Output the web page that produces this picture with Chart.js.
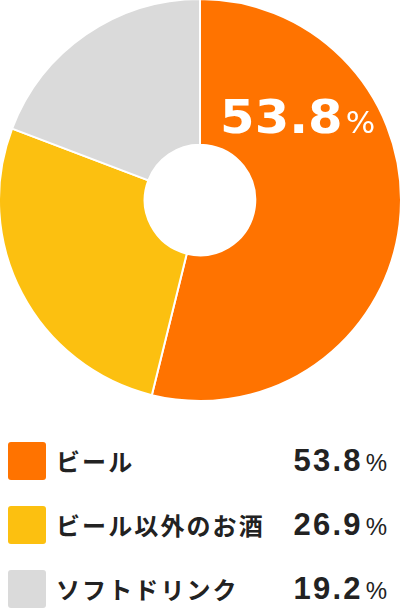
<!DOCTYPE html>
<html lang="ja">
<head>
<meta charset="utf-8">
<script src="https://cdn.jsdelivr.net/npm/chart.js@4.4.1/dist/chart.umd.min.js"></script>
<style>
  body { margin: 0; background: #fff; width: 400px; height: 608px; overflow: hidden; position: relative; }
  #chartBox { position: absolute; left: -2px; top: -2px; width: 404px; height: 404px; }
  .row { position: absolute; left: 0; width: 400px; height: 38px; }
  .swatch { position: absolute; left: 8px; top: 0; width: 38px; height: 38px; border-radius: 3px; }
  .label { position: absolute; left: 56px; top: 0; line-height: 38px; font-family: "Noto Sans CJK JP"; font-weight: 700; font-size: 24px; letter-spacing: 2.1px; color: #222; white-space: nowrap; }
  .value { position: absolute; right: 13px; top: 0; line-height: 38px; color: #222; font-family: "Liberation Sans"; white-space: nowrap; }
  .num { font-weight: 700; font-size: 31px; letter-spacing: 2.2px; }
  .pct { font-size: 24px; margin-left: 3px; }
</style>
</head>
<body>
<div id="chartBox"><canvas id="pieChart"></canvas></div>
<div id="legend"></div>
<script>
var labels = ['ビール', 'ビール以外のお酒', 'ソフトドリンク'];
var values = [53.8, 26.9, 19.2];
var colors = ['#FF7300', '#FCC010', '#DADADA'];

// big white percentage on the first slice
var bigLabel = {
    id: 'bigLabel',
    afterDatasetsDraw: function(chart) {
        var arc = chart.getDatasetMeta(0).data[0];
        var r = arc.outerRadius;
        var ctx = chart.ctx;
        var num = values[0].toFixed(1);
        ctx.save();
        ctx.fillStyle = '#fff';
        ctx.textBaseline = 'alphabetic';
        ctx.translate(arc.x + r * 0.1, arc.y - r * 0.335);
        ctx.save();
        ctx.scale(1.08, 1);
        ctx.font = 'bold 46px "DejaVu Sans"';
        ctx.fillText(num, 0, 0);
        var w = ctx.measureText(num).width * 1.08;
        ctx.restore();
        ctx.translate(w + 3, 0);
        ctx.font = '31px "DejaVu Sans"';
        ctx.fillText('%', 0, 0);
        ctx.restore();
    }
};

var ctx = document.getElementById('pieChart').getContext('2d');
var pieChart = new Chart(ctx, {
    type: 'doughnut',
    data: {
        labels: labels,
        datasets: [{
            data: values,
            backgroundColor: colors,
            borderColor: '#fff',
            borderWidth: 2
        }]
    },
    options: {
        responsive: true,
        maintainAspectRatio: false,
        animation: false,
        cutout: '27.5%',
        events: [],
        layout: { padding: 0 },
        plugins: {
            legend: { display: false },
            tooltip: { enabled: false }
        }
    },
    plugins: [bigLabel]
});

// legend rows under the chart
var legend = document.getElementById('legend');
for (var i = 0; i < labels.length; i++) {
    var row = document.createElement('div');
    row.className = 'row';
    row.style.top = (442 + i * 64) + 'px';
    row.innerHTML = '<div class="swatch" style="background:' + colors[i] + '"></div>' +
        '<div class="label">' + labels[i] + '</div>' +
        '<div class="value"><span class="num">' + values[i].toFixed(1) + '</span><span class="pct">%</span></div>';
    legend.appendChild(row);
}
</script>
</body>
</html>
